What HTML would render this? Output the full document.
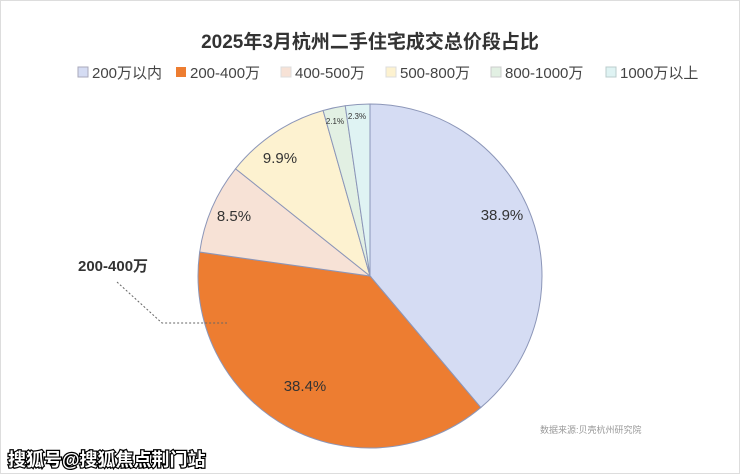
<!DOCTYPE html>
<html><head><meta charset="utf-8"><style>
body{margin:0;width:740px;height:474px;background:#fff;overflow:hidden;font-family:"Liberation Sans","Noto Sans CJK SC",sans-serif;}
.frame{position:absolute;left:0;top:0;width:738px;height:472px;border:1px solid #ddd;}
</style></head><body>
<div class="frame"></div>
<svg width="740" height="474" style="position:absolute;left:0;top:0" font-family="Liberation Sans, Noto Sans CJK SC, sans-serif">
<text x="370" y="48" text-anchor="middle" font-size="19" font-weight="bold" fill="#333">2025年3月杭州二手住宅成交总价段占比</text>
<g font-size="15" fill="#444">
<rect x="78" y="67" width="10" height="10" fill="#d5dcf3" stroke="#aab"/><text x="92" y="78">200万以内</text>
<rect x="176" y="67" width="10" height="10" fill="#ed7d31"/><text x="190" y="78">200-400万</text>
<rect x="281" y="67" width="10" height="10" fill="#f7e2d6" stroke="#ddd"/><text x="295" y="78">400-500万</text>
<rect x="386" y="67" width="10" height="10" fill="#fdf2d0" stroke="#ddd"/><text x="400" y="78">500-800万</text>
<rect x="491" y="67" width="10" height="10" fill="#e2f0e3" stroke="#ccc"/><text x="505" y="78">800-1000万</text>
<rect x="606" y="67" width="10" height="10" fill="#dff3f3" stroke="#bcc"/><text x="620" y="78">1000万以上</text>
</g>
<g id="pie" stroke="#8c96b8" stroke-width="1"></g>
<g font-size="15" fill="#333" text-anchor="middle">
<text x="502" y="220">38.9%</text>
<text x="305" y="391">38.4%</text>
<text x="234" y="221">8.5%</text>
<text x="280" y="163">9.9%</text>
<text x="335" y="124" font-size="8">2.1%</text>
<text x="357" y="119" font-size="8">2.3%</text>
</g>
<text x="78" y="271" font-size="15" font-weight="bold" fill="#333">200-400万</text>
<polyline points="117,282 162,323 227,323" fill="none" stroke="#666" stroke-dasharray="2,2"/>
<text x="540" y="433" font-size="9" fill="#999">数据来源:贝壳杭州研究院</text>
<text x="8" y="466" font-size="18" fill="#fff" stroke="#000" stroke-width="2.5" paint-order="stroke" font-weight="bold">搜狐号@搜狐焦点荆门站</text>
</svg>
<script>
var cx=370,cy=276,r=172,vals=[38.9,38.4,8.5,9.9,2.1,2.3],cols=["#d5dcf3","#ed7d31","#f7e2d6","#fdf2d0","#e2f0e3","#dff3f3"];
var tot=100.1,a=0,g=document.getElementById('pie'),s='';
vals.forEach(function(v,i){var a2=a+v/tot*2*Math.PI;
var x1=cx+r*Math.sin(a),y1=cy-r*Math.cos(a),x2=cx+r*Math.sin(a2),y2=cy-r*Math.cos(a2);
s+='<path d="M'+cx+','+cy+'L'+x1+','+y1+'A'+r+','+r+' 0 '+(a2-a>Math.PI?1:0)+' 1 '+x2+','+y2+'Z" fill="'+cols[i]+'"/>';a=a2;});
g.innerHTML=s;
</script>
</body></html>
